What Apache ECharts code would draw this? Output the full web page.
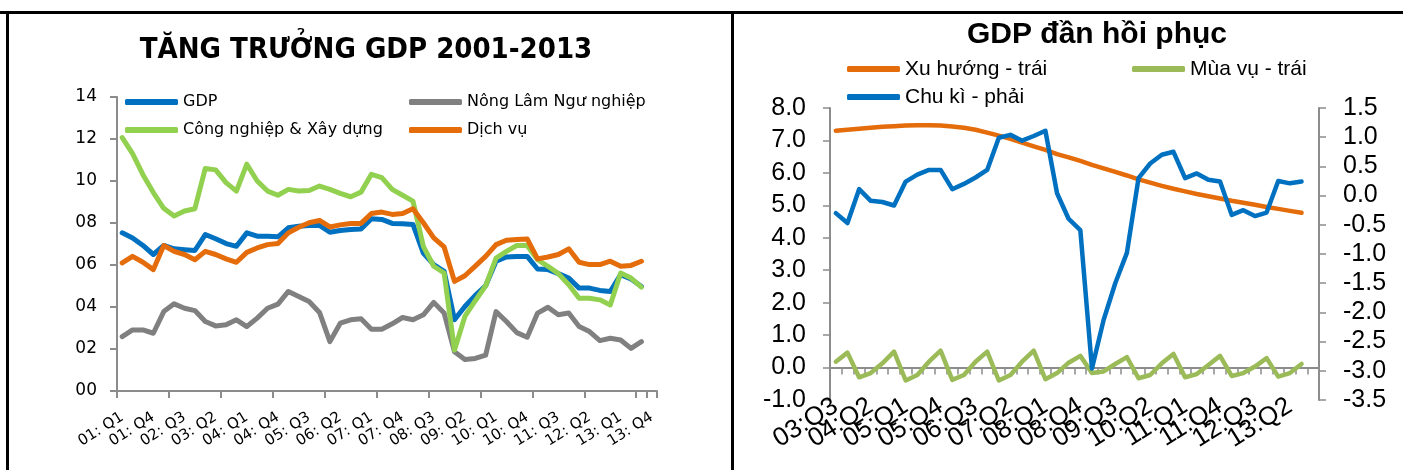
<!DOCTYPE html>
<html>
<head>
<meta charset="utf-8">
<script src="https://cdn.jsdelivr.net/npm/echarts@6/dist/echarts.min.js"></script>
<style>
  html, body { margin: 0; padding: 0; background: #fff; }
  #chart { width: 1403px; height: 470px; }
</style>
</head>
<body>
<div id="chart"></div>
<script>
// ---- left chart: TĂNG TRƯỞNG GDP 2001-2013 (01:Q1 .. 13:Q4, data ends 13:Q3)
const leftCategories = [];
for (let y = 1; y <= 13; y++) {
  for (let q = 1; q <= 4; q++) leftCategories.push(String(y).padStart(2, '0') + ': Q' + q);
}
const gdp = [7.53, 7.29, 6.93, 6.5, 6.93, 6.77, 6.73, 6.69, 7.45, 7.25, 7.02, 6.89, 7.53, 7.37, 7.37, 7.34,
  7.77, 7.85, 7.88, 7.88, 7.56, 7.64, 7.69, 7.72, 8.2, 8.17, 7.98, 7.96, 7.93, 6.57, 6.02, 5.7,
  3.39, 4.02, 4.55, 5.01, 6.18, 6.38, 6.41, 6.41, 5.81, 5.78, 5.59, 5.38, 4.9, 4.9, 4.79, 4.74,
  5.54, 5.33, 4.98];
const nongLam = [2.59, 2.91, 2.91, 2.75, 3.78, 4.15, 3.94, 3.83, 3.31, 3.1, 3.15, 3.39, 3.07, 3.47, 3.94, 4.14,
  4.74, 4.5, 4.26, 3.74, 2.35, 3.23, 3.39, 3.44, 2.94, 2.94, 3.2, 3.5, 3.39, 3.63, 4.22, 3.71,
  1.87, 1.5, 1.55, 1.71, 3.78, 3.31, 2.78, 2.56, 3.71, 3.99, 3.63, 3.71, 3.07, 2.83, 2.4, 2.51,
  2.43, 2.03, 2.35];
const congNghiep = [12.07, 11.3, 10.3, 9.45, 8.7, 8.33, 8.57, 8.68, 10.6, 10.53, 9.92, 9.52, 10.8, 10.0, 9.52, 9.32,
  9.6, 9.52, 9.55, 9.76, 9.6, 9.41, 9.25, 9.47, 10.32, 10.16, 9.6, 9.32, 9.04, 6.89, 5.94, 5.62,
  1.95, 3.55, 4.3, 5.01, 6.33, 6.65, 6.93, 6.93, 6.25, 5.94, 5.59, 5.06, 4.42, 4.42, 4.34, 4.1,
  5.62, 5.38, 4.95];
const dichVu = [6.1, 6.41, 6.13, 5.78, 6.93, 6.65, 6.5, 6.25, 6.65, 6.5, 6.29, 6.13, 6.6, 6.81, 6.97, 7.02,
  7.53, 7.8, 8.01, 8.12, 7.81, 7.91, 7.98, 7.98, 8.45, 8.52, 8.41, 8.45, 8.68, 8.01, 7.29, 6.86,
  5.22, 5.49, 5.95, 6.41, 6.97, 7.18, 7.21, 7.24, 6.29, 6.38, 6.5, 6.77, 6.13, 6.02, 6.02, 6.18,
  5.94, 5.98, 6.18];

// ---- right chart: GDP đần hồi phục (03:Q3 .. 13:Q4, data ends 13:Q3)
const rightCategories = [];
for (let y = 3; y <= 13; y++) {
  for (let q = 1; q <= 4; q++) {
    if (y === 3 && q < 3) continue;
    rightCategories.push(String(y).padStart(2, '0') + ':Q' + q);
  }
}
const xuHuong = [7.30, 7.33, 7.36, 7.39, 7.42, 7.44, 7.46, 7.47, 7.47, 7.46, 7.43, 7.39, 7.33, 7.24, 7.15, 7.05,
  6.93, 6.82, 6.71, 6.58, 6.48, 6.37, 6.25, 6.14, 6.03, 5.92, 5.80, 5.70, 5.60, 5.51, 5.43, 5.35,
  5.28, 5.21, 5.14, 5.08, 5.02, 4.95, 4.89, 4.83, 4.77];
const muaVu = [0.18, 0.46, -0.30, -0.17, 0.13, 0.49, -0.40, -0.23, 0.18, 0.52, -0.38, -0.23, 0.18, 0.49, -0.40, -0.23,
  0.18, 0.52, -0.36, -0.17, 0.15, 0.36, -0.17, -0.12, 0.11, 0.32, -0.33, -0.23, 0.13, 0.42, -0.30, -0.20,
  0.08, 0.36, -0.26, -0.17, 0.03, 0.29, -0.28, -0.17, 0.11];
const chuKi = [-0.30, -0.47, 0.11, -0.09, -0.11, -0.17, 0.24, 0.36, 0.44, 0.44, 0.11, 0.20, 0.31, 0.44, 0.99, 1.04,
  0.94, 1.02, 1.11, 0.04, -0.40, -0.59, -2.96, -2.13, -1.50, -0.98, 0.30, 0.55, 0.70, 0.75, 0.30, 0.38,
  0.27, 0.24, -0.33, -0.25, -0.35, -0.29, 0.25, 0.21, 0.24];

const LEFT_FONT = '"DejaVu Sans", Verdana, sans-serif';
const RIGHT_FONT = '"Liberation Sans", Arial, sans-serif';
const AXIS_GRAY = '#8c8c8c';

function legendAt(name, left, midY, font, size) {
  return {
    data: [name], left: left, top: midY - 12, padding: 0, itemGap: 0,
    itemWidth: 53, itemHeight: 6, icon: 'roundRect', selectedMode: false,
    textStyle: { fontFamily: font, fontSize: size, color: '#000', lineHeight: 24 }
  };
}

function lineSeries(name, data, color, width, xi, yi) {
  return {
    type: 'line', name: name, data: data, color: color,
    xAxisIndex: xi, yAxisIndex: yi, showSymbol: false, symbol: 'none',
    lineStyle: { width: width, color: color, cap: 'round', join: 'round' },
    emphasis: { disabled: true }
  };
}

// every third quarter gets a label, the others stay empty
const everyThird = (value, index) => (index % 3 === 0 ? value : '');

const chart = echarts.init(document.getElementById('chart'));
chart.setOption({
  animation: false,
  backgroundColor: '#fff',
  graphic: [
    { type: 'rect', shape: { x: 0, y: 11, width: 1403, height: 3 }, style: { fill: '#000' } },
    { type: 'rect', shape: { x: 6, y: 11, width: 3, height: 470 }, style: { fill: '#000' } },
    { type: 'rect', shape: { x: 731, y: 11, width: 3, height: 470 }, style: { fill: '#000' } },
    { type: 'text', x: 366, y: 50,
      style: { text: 'TĂNG TRƯỞNG GDP 2001-2013', fill: '#000', align: 'center', verticalAlign: 'middle',
        font: 'bold 29px "DejaVu Sans Condensed", "DejaVu Sans", sans-serif' } },
    { type: 'text', x: 1097, y: 35,
      style: { text: 'GDP đần hồi phục', fill: '#000', align: 'center', verticalAlign: 'middle',
        font: 'bold 30px ' + RIGHT_FONT } }
  ],
  legend: [
    legendAt('GDP', 125, 102, LEFT_FONT, 16),
    legendAt('Công nghiệp & Xây dựng', 125, 130, LEFT_FONT, 16),
    legendAt('Nông Lâm Ngư nghiệp', 409, 102, LEFT_FONT, 16),
    legendAt('Dịch vụ', 409, 130, LEFT_FONT, 16),
    legendAt('Xu hướng - trái', 847, 69, RIGHT_FONT, 21),
    legendAt('Chu kì - phải', 847, 97, RIGHT_FONT, 21),
    legendAt('Mùa vụ - trái', 1132, 69, RIGHT_FONT, 21)
  ],
  grid: [
    { left: 117, top: 97, width: 540, height: 294, outerBoundsMode: 'none', containLabel: false },
    { left: 830, top: 108, width: 489, height: 292, outerBoundsMode: 'none', containLabel: false },
    // label strip for the right chart's category labels (placed low, Excel style)
    { left: 830, top: 108, width: 489, height: 272, outerBoundsMode: 'none', containLabel: false }
  ],
  xAxis: [
    {
      type: 'category', gridIndex: 0, data: leftCategories, boundaryGap: true,
      axisLine: { show: true, lineStyle: { color: AXIS_GRAY, width: 2 } },
      axisTick: { show: true, interval: 4, length: 7, lineStyle: { color: AXIS_GRAY, width: 2 } },
      axisLabel: { interval: 0, formatter: everyThird, rotate: 32, margin: 25, color: '#000',
        fontFamily: LEFT_FONT, fontSize: 15 },
      splitLine: { show: false }
    },
    {
      type: 'category', gridIndex: 1, data: rightCategories, boundaryGap: true,
      axisLine: { show: true, onZero: true, onZeroAxisIndex: 1, lineStyle: { color: AXIS_GRAY, width: 2 } },
      axisTick: { show: true, interval: 0, length: 7, lineStyle: { color: AXIS_GRAY, width: 1.5 } },
      axisLabel: { show: false },
      splitLine: { show: false }
    },
    {
      type: 'category', gridIndex: 2, data: rightCategories, boundaryGap: true,
      axisLine: { show: false }, axisTick: { show: false }, splitLine: { show: false },
      axisLabel: { interval: 0, formatter: everyThird, rotate: 32, margin: 24, color: '#000',
        fontFamily: RIGHT_FONT, fontSize: 26 }
    }
  ],
  yAxis: [
    {
      type: 'value', gridIndex: 0, min: 0, max: 14, interval: 2, position: 'left',
      axisLine: { show: true, lineStyle: { color: AXIS_GRAY, width: 2 } },
      axisTick: { show: true, length: 7, lineStyle: { color: AXIS_GRAY, width: 2 } },
      axisLabel: { margin: 20, color: '#000', fontFamily: LEFT_FONT, fontSize: 17,
        formatter: v => String(v).padStart(2, '0') },
      splitLine: { show: false }
    },
    {
      type: 'value', gridIndex: 1, min: -1, max: 8, interval: 1, position: 'left',
      axisLine: { show: true, lineStyle: { color: AXIS_GRAY, width: 2 } },
      axisTick: { show: true, length: 7, lineStyle: { color: AXIS_GRAY, width: 1.5 } },
      axisLabel: { margin: 24, color: '#000', fontFamily: RIGHT_FONT, fontSize: 25,
        formatter: v => v.toFixed(1) },
      splitLine: { show: false }
    },
    {
      type: 'value', gridIndex: 1, min: -3.5, max: 1.5, interval: 0.5, position: 'right',
      axisLine: { show: true, lineStyle: { color: AXIS_GRAY, width: 2 } },
      axisTick: { show: true, length: 7, lineStyle: { color: AXIS_GRAY, width: 1.5 } },
      axisLabel: { margin: 24, color: '#000', fontFamily: RIGHT_FONT, fontSize: 25,
        formatter: v => v.toFixed(1) },
      splitLine: { show: false }
    },
    { type: 'value', gridIndex: 2, show: false, min: 0, max: 1 }
  ],
  series: [
    lineSeries('GDP', gdp, '#0070C0', 5, 0, 0),
    lineSeries('Nông Lâm Ngư nghiệp', nongLam, '#808080', 5, 0, 0),
    lineSeries('Công nghiệp & Xây dựng', congNghiep, '#92D050', 5, 0, 0),
    lineSeries('Dịch vụ', dichVu, '#E46C0A', 5, 0, 0),
    lineSeries('Xu hướng - trái', xuHuong, '#E46C0A', 4.5, 1, 1),
    lineSeries('Mùa vụ - trái', muaVu, '#9BBB59', 4.5, 1, 1),
    lineSeries('Chu kì - phải', chuKi, '#0070C0', 4.5, 1, 2)
  ]
});
</script>
</body>
</html>
